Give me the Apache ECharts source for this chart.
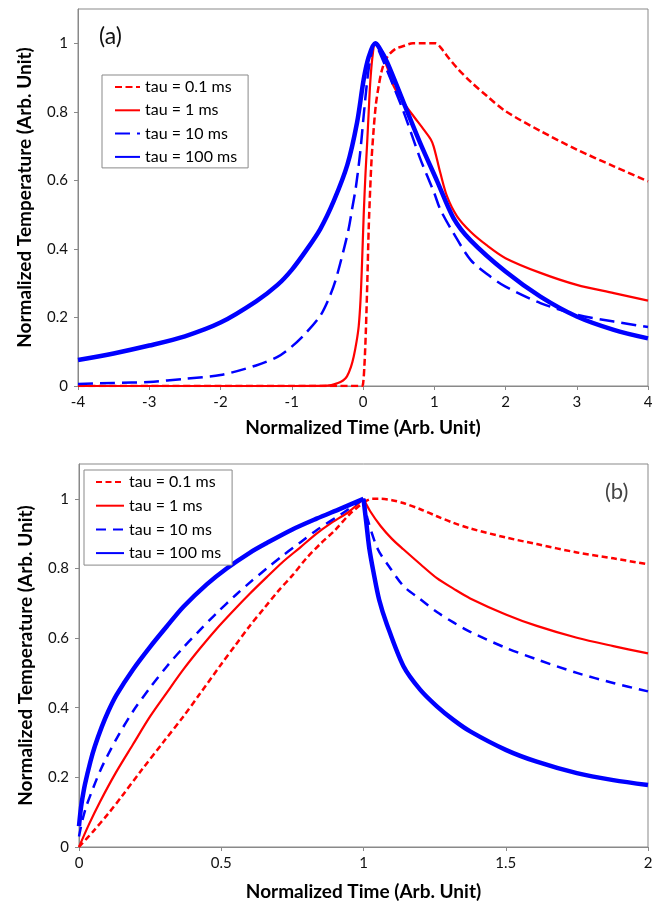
<!DOCTYPE html>
<html>
<head>
<meta charset="utf-8">
<script src="https://cdn.jsdelivr.net/npm/echarts@6/dist/echarts.min.js"></script>
<style>
html,body{margin:0;padding:0;background:#fff;}
#chart{width:657px;height:903px;}
</style>
</head>
<body>
<div id="chart"></div>
<script>
// ---------- Data ----------
const seriesNames = ['tau = 0.1 ms', 'tau = 1 ms', 'tau = 10 ms', 'tau = 100 ms'];
const yTickValues = [0, 0.2, 0.4, 0.6, 0.8, 1];

// Panel (a): [normalized time, normalized temperature]
const a_tau01 = [[-4,0],[-2,0],[-0.5,0],[-0.02,0],[0,0.005],[0.02,0.06],[0.04,0.16],[0.06,0.3],[0.08,0.46],[0.1,0.57],[0.12,0.66],[0.15,0.75],[0.18,0.82],[0.22,0.875],[0.27,0.925],[0.34,0.96],[0.45,0.983],[0.57,0.992],[0.7,1.0],[0.85,1.0],[1.02,1.0],[1.1,0.985],[1.18,0.963],[1.32,0.928],[1.51,0.888],[1.74,0.846],[2,0.802],[2.49,0.744],[3,0.69],[3.52,0.641],[4,0.597]];
const a_tau1 = [[-4,0],[-1,0],[-0.5,0.001],[-0.36,0.008],[-0.28,0.016],[-0.225,0.028],[-0.17,0.055],[-0.13,0.086],[-0.09,0.13],[-0.06,0.175],[-0.035,0.25],[-0.015,0.35],[0.01,0.5],[0.035,0.62],[0.056,0.7],[0.08,0.8],[0.1,0.88],[0.13,0.955],[0.17,1.0],[0.2,0.995],[0.26,0.965],[0.34,0.93],[0.43,0.875],[0.57,0.827],[0.71,0.787],[0.85,0.749],[0.95,0.72],[0.99,0.70],[1.04,0.66],[1.085,0.622],[1.18,0.553],[1.32,0.495],[1.51,0.45],[1.74,0.41],[2,0.373],[2.49,0.33],[3,0.295],[3.52,0.271],[4,0.249]];
const a_tau10 = [[-4,0.006],[-3.5,0.009],[-3,0.012],[-2.5,0.021],[-2,0.032],[-1.5,0.06],[-1.2,0.085],[-1,0.115],[-0.8,0.155],[-0.6,0.205],[-0.48,0.255],[-0.39,0.305],[-0.27,0.398],[-0.2,0.46],[-0.15,0.52],[-0.1,0.58],[-0.04,0.68],[0.01,0.79],[0.056,0.885],[0.1,0.95],[0.17,1.0],[0.22,0.98],[0.34,0.92],[0.57,0.8],[0.8,0.665],[1.0,0.563],[1.085,0.515],[1.27,0.446],[1.51,0.368],[1.75,0.325],[2,0.29],[2.49,0.242],[3,0.208],[3.52,0.188],[4,0.172]];
const a_tau100 = [[-4,0.076],[-3.5,0.095],[-3,0.118],[-2.5,0.145],[-2,0.185],[-1.5,0.247],[-1.2,0.295],[-1,0.339],[-0.8,0.395],[-0.6,0.458],[-0.41,0.54],[-0.22,0.645],[-0.084,0.768],[0.01,0.895],[0.08,0.96],[0.17,1.0],[0.22,0.99],[0.34,0.944],[0.57,0.827],[0.8,0.71],[1.04,0.598],[1.27,0.49],[1.51,0.425],[2,0.334],[2.49,0.261],[3,0.203],[3.52,0.164],[4,0.139]];

// Panel (b): heating part (rise) and cooling part (fall)
const b_tau01_rise = [[0,0],[0.05,0.045],[0.103,0.096],[0.15,0.145],[0.22,0.221],[0.3,0.305],[0.367,0.375],[0.425,0.44],[0.5,0.525],[0.55,0.58],[0.6,0.635],[0.65,0.685],[0.7,0.735],[0.75,0.78],[0.8,0.83],[0.85,0.872],[0.9,0.91],[0.95,0.955],[1.0,0.99]];
const b_tau01_fall = [[1.0,0.99],[1.03,1.0],[1.06,1.0],[1.1,0.996],[1.14,0.988],[1.2,0.97],[1.258,0.95],[1.316,0.931],[1.375,0.915],[1.5,0.889],[1.609,0.87],[1.75,0.846],[1.878,0.829],[2,0.812]];
const b_tau1_rise = [[0,0],[0.035,0.065],[0.074,0.13],[0.127,0.21],[0.19,0.295],[0.25,0.375],[0.31,0.445],[0.367,0.51],[0.425,0.57],[0.484,0.627],[0.55,0.685],[0.601,0.728],[0.66,0.775],[0.718,0.82],[0.777,0.86],[0.835,0.9],[0.882,0.928],[0.952,0.965],[1,1.0]];
const b_tau1_fall = [[1,1.0],[1.023,0.965],[1.06,0.922],[1.1,0.885],[1.14,0.855],[1.2,0.812],[1.258,0.772],[1.316,0.742],[1.375,0.714],[1.5,0.668],[1.609,0.635],[1.75,0.601],[1.878,0.577],[2,0.556]];
const b_tau10_rise = [[0,0.03],[0.01,0.07],[0.025,0.115],[0.05,0.17],[0.075,0.22],[0.1,0.262],[0.138,0.32],[0.19,0.39],[0.25,0.458],[0.31,0.52],[0.367,0.573],[0.425,0.623],[0.484,0.672],[0.55,0.723],[0.601,0.76],[0.66,0.8],[0.718,0.838],[0.78,0.876],[0.835,0.91],[0.929,0.96],[1,1.0]];
const b_tau10_fall = [[1,1.0],[1.015,0.94],[1.05,0.856],[1.088,0.808],[1.14,0.75],[1.199,0.712],[1.258,0.675],[1.316,0.645],[1.375,0.618],[1.5,0.572],[1.609,0.539],[1.75,0.5],[1.878,0.471],[2,0.447]];
const b_tau100_rise = [[0,0.06],[0.005,0.1],[0.01,0.13],[0.021,0.18],[0.04,0.245],[0.056,0.29],[0.08,0.345],[0.103,0.39],[0.132,0.437],[0.19,0.51],[0.25,0.575],[0.31,0.635],[0.367,0.69],[0.45,0.755],[0.519,0.8],[0.6,0.845],[0.66,0.873],[0.75,0.912],[0.835,0.943],[0.92,0.972],[1.0,1.0]];
const b_tau100_fall = [[1.0,1.0],[1.01,0.93],[1.02,0.86],[1.035,0.79],[1.055,0.71],[1.082,0.64],[1.14,0.52],[1.199,0.452],[1.258,0.404],[1.316,0.365],[1.375,0.332],[1.5,0.279],[1.609,0.245],[1.75,0.212],[1.878,0.192],[2,0.178]];

// ---------- Chart ----------
const FONT = 'Lato, "Open Sans", sans-serif';
const AX = '#898989';
const RED = '#ff0000', BLUE = '#0000ff';
const SUFFIX = ' (b)';

function xAxisCfg(grid, min, max, interval, gap) {
  return {
    type: 'value', gridIndex: grid, min: min, max: max, interval: interval,
    axisLine: {show: true, onZero: false, lineStyle: {color: AX, width: 1}},
    axisTick: {show: true, inside: false, length: 4, lineStyle: {color: AX}},
    axisLabel: {fontFamily: FONT, fontSize: 15, color: '#111', margin: 9},
    splitLine: {show: false},
    name: 'Normalized Time (Arb. Unit)', nameLocation: 'middle', nameGap: gap,
    nameTextStyle: {fontFamily: FONT, fontSize: 19, fontWeight: 'bold', color: '#000'}
  };
}
function yAxisCfg(grid) {
  return {
    type: 'value', gridIndex: grid, min: 0, max: 1.1, interval: 0.2,
    axisLine: {show: true, onZero: false, lineStyle: {color: AX, width: 1}},
    axisTick: {show: true, inside: false, length: 4, lineStyle: {color: AX}, customValues: yTickValues},
    axisLabel: {fontFamily: FONT, fontSize: 15, color: '#111', margin: 10, customValues: yTickValues},
    splitLine: {show: false},
    name: 'Normalized Temperature (Arb. Unit)', nameLocation: 'middle', nameGap: 44,
    nameTextStyle: {fontFamily: FONT, fontSize: 19, fontWeight: 'bold', color: '#000'}
  };
}
function lineSeries(name, data, grid, color, width, type) {
  return {
    name: name, type: 'line', xAxisIndex: grid, yAxisIndex: grid, data: data,
    showSymbol: false, symbol: 'none', smooth: 0.3, animation: false,
    lineStyle: {color: color, width: width, type: type, cap: 'butt', join: 'round'},
    itemStyle: {color: color}
  };
}

const aData = [a_tau01, a_tau1, a_tau10, a_tau100];
const bRise = [b_tau01_rise, b_tau1_rise, b_tau10_rise, b_tau100_rise];
const bFall = [b_tau01_fall, b_tau1_fall, b_tau10_fall, b_tau100_fall];
const colors = [RED, RED, BLUE, BLUE];
const widths = [2.5, 2.2, 2.5, 4.5];
const aDash = [[7, 3.5], 'solid', [15, 7], 'solid'];
const bDash = [[6, 3.5], 'solid', [10, 7], 'solid'];

const series = [];
seriesNames.forEach((n, i) => series.push(lineSeries(n, aData[i], 0, colors[i], widths[i], aDash[i])));
seriesNames.forEach((n, i) => {
  series.push(lineSeries(n + SUFFIX, bRise[i], 1, colors[i], widths[i], bDash[i]));
  series.push(lineSeries(n + SUFFIX, bFall[i], 1, colors[i], widths[i], bDash[i]));
});

const legendCommon = {
  orient: 'vertical', backgroundColor: '#fff', borderColor: AX, borderWidth: 1,
  textStyle: {fontFamily: FONT, fontSize: 16, color: '#000'},
  selectedMode: false,
  itemStyle: {opacity: 0},
  formatter: function (name) { return name.replace(SUFFIX, ''); }
};

const option = {
  backgroundColor: '#fff',
  animation: false,
  grid: [
    {left: 78, top: 9, width: 570, height: 377, show: true, borderColor: AX, borderWidth: 1, backgroundColor: 'transparent'},
    {left: 79, top: 464, width: 569, height: 383, show: true, borderColor: AX, borderWidth: 1, backgroundColor: 'transparent'}
  ],
  xAxis: [xAxisCfg(0, -4, 4, 1, 32), xAxisCfg(1, 0, 2, 0.5, 35)],
  yAxis: [yAxisCfg(0), yAxisCfg(1)],
  legend: [
    Object.assign({}, legendCommon, {
      data: seriesNames.slice(), left: 102, top: 75,
      itemWidth: 25, itemHeight: 14, itemGap: 7.3, padding: [4, 11, 3, 12]
    }),
    Object.assign({}, legendCommon, {
      data: seriesNames.map(n => n + SUFFIX), left: 84, top: 470,
      itemWidth: 28, itemHeight: 14, itemGap: 7.7, padding: [4, 11, 4, 11]
    })
  ],
  graphic: [
    {type: 'text', left: 99, top: 25, style: {text: '(a)', fontFamily: FONT, fontSize: 23, fill: '#111'}},
    {type: 'text', left: 605, top: 481, style: {text: '(b)', fontFamily: FONT, fontSize: 22, fill: '#444'}}
  ],
  series: series
};

const chart = echarts.init(document.getElementById('chart'), null, {renderer: 'canvas'});
chart.setOption(option);
</script>
</body>
</html>
